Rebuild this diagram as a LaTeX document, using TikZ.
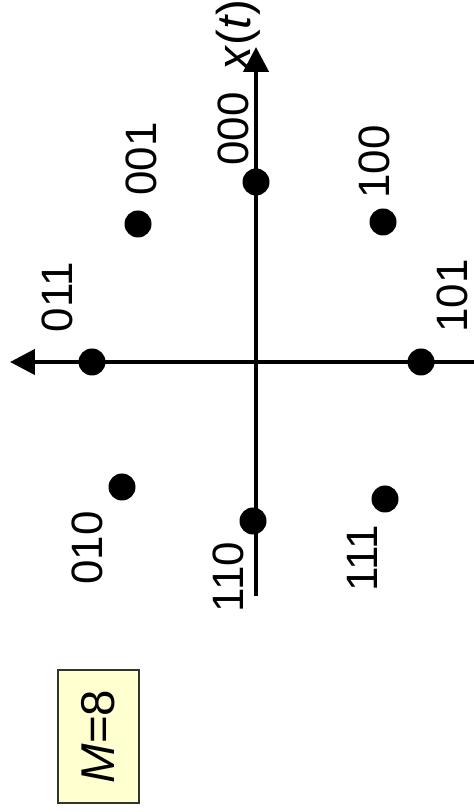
\documentclass[tikz,border=0pt]{standalone}
\usepackage{fontspec}
\setmainfont{Liberation Sans}
\usepackage{tikz}
\usetikzlibrary{arrows.meta,positioning}
\definecolor{NoteFill}{HTML}{FFFFD0}
\definecolor{Ink}{HTML}{000000}
\tikzset{
  cdot/.style={circle, fill=Ink, inner sep=0pt, minimum size=0.27cm},
  bitlbl/.style={rotate=90, inner sep=0pt, font=\fontsize{12.5}{14}\selectfont},
  axarr/.style={-{Triangle[length=0.25cm,width=0.25cm]}, line width=0.045cm, color=Ink},
}

\begin{document}
\begin{tikzpicture}[
  notebox/.style={draw=Ink!80, line width=0.6pt, fill=#1, rotate=90,
    minimum width=1.33cm, minimum height=0.81cm, inner sep=0pt,
    font=\fontsize{13.5}{15}\selectfont},
]
  \useasboundingbox (-2.56,-4.50) rectangle (2.18,3.62);
  % axes
  \coordinate (ybot) at (0,-2.34);
  \coordinate (ytop) at (0,3.15);
  \coordinate (xright) at (2.18,0);
  \coordinate (xleft) at (-2.46,0);
  \draw[axarr] (ybot) -- (ytop);
  \draw[axarr] (xright) -- (xleft);
  \node[bitlbl, font=\fontsize{13.5}{15}\selectfont] (xt) at (-0.18,3.27) {\textit{x}(\textit{t})};
  % constellation points
  \node[cdot] (p000) at (0,1.80) {};
  \node[cdot] (p001) at (-1.18,1.38) {};
  \node[cdot] (p100) at (1.27,1.40) {};
  \node[cdot] (p011) at (-1.64,0) {};
  \node[cdot] (p101) at (1.65,0) {};
  \node[cdot] (p010) at (-1.34,-1.25) {};
  \node[cdot] (p110) at (-0.03,-1.59) {};
  \node[cdot] (p111) at (1.29,-1.37) {};
  % bit labels
  \node[bitlbl] (l000) at (-0.23,2.33) {000};
  \node[bitlbl] (l001) at (-1.15,2.03) {001};
  \node[bitlbl] (l100) at (1.18,2.00) {100};
  \node[bitlbl] (l011) at (-1.985,0.65) {011};
  \node[bitlbl] (l101) at (1.96,0.66) {101};
  \node[bitlbl] (l010) at (-1.69,-1.86) {010};
  \node[bitlbl] (l110) at (-0.28,-2.15) {110};
  \node[bitlbl] (l111) at (1.06,-1.96) {111};
  \node[notebox=NoteFill] (mbox) at (-1.575,-3.745) {\textit{M}=8};
\end{tikzpicture}
\end{document}
